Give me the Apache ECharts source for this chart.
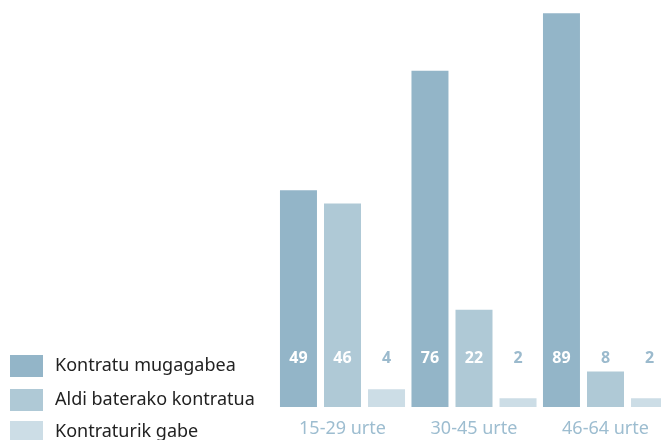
<!DOCTYPE html>
<html>
<head>
<meta charset="utf-8">
<script src="https://cdn.jsdelivr.net/npm/echarts@6/dist/echarts.min.js"></script>
<style>
  html, body { margin: 0; padding: 0; background: #fff; }
  #chart { width: 661px; height: 440px; }
</style>
</head>
<body>
<div id="chart"></div>
<script>
// adin taldeak
const categories = ['15-29 urte', '30-45 urte', '46-64 urte']
const seriesNames = ['Kontratu mugagabea', 'Aldi baterako kontratua', 'Kontraturik gabe']
const mugagabea = [49, 76, 89]
const aldiBaterako = [46, 22, 8]
const gabe = [4, 2, 2]

const colors = ['#93b5c8', '#afc9d6', '#ccdde6']
const font = 'Noto Sans'

function makeSeries(name, data, color) {
  return {
    name: name,
    type: 'bar',
    barWidth: 37,
    barGap: '19%',
    clip: false,
    itemStyle: { color: color },
    data: data.map(v => ({
      value: v,
      label: { color: v < 10 ? '#9bbacd' : '#fff' }
    })),
    label: {
      show: true,
      position: 'insideBottom',
      distance: 41,
      fontFamily: font,
      fontWeight: 'bold',
      fontSize: 16
    }
  }
}

// legend bakoitza bere lerroan (bestela bi zutabetan banatzen da)
const legendTops = [350, 384, 416]
const legends = seriesNames.map((n, i) => ({
  left: 5,
  top: legendTops[i],
  padding: 5,
  itemWidth: 33,
  itemHeight: 22,
  icon: 'rect',
  selectedMode: false,
  textStyle: { fontFamily: font, fontSize: 18, color: '#222', padding: [0, 0, 0, 7] },
  data: [n]
}))

const chart = echarts.init(document.getElementById('chart'))
const option = {
  animation: false,
  color: colors,
  // kategoriak ertzetan (boundaryGap false), azken taldea eskuinean mozten da
  grid: { left: 342.5, width: 263, top: 8.75, bottom: 33, containLabel: false },
  legend: legends,
  xAxis: {
    type: 'category',
    data: categories,
    boundaryGap: false,
    axisLine: { show: false },
    axisTick: { show: false },
    axisLabel: { margin: 13, fontFamily: font, fontSize: 18, color: '#9dbdd0' }
  },
  yAxis: {
    type: 'value',
    min: 0,
    max: 90,
    show: false,
    splitLine: { show: false }
  },
  series: [
    makeSeries(seriesNames[0], mugagabea, colors[0]),
    makeSeries(seriesNames[1], aldiBaterako, colors[1]),
    makeSeries(seriesNames[2], gabe, colors[2])
  ]
}
chart.setOption(option)
window.addEventListener('resize', function () {
  chart.resize()
})
</script>
</body>
</html>
